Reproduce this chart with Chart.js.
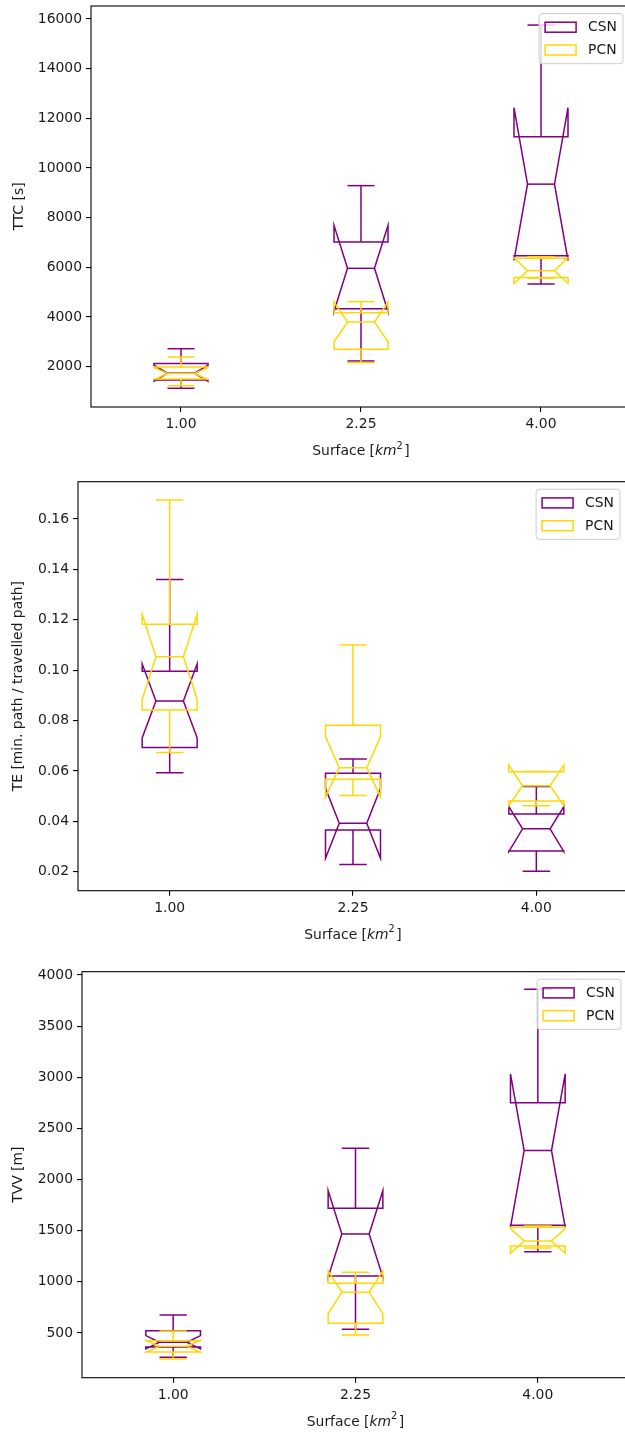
<!DOCTYPE html>
<html><head><meta charset="utf-8">
<script src="https://cdn.jsdelivr.net/npm/chart.js@4.4.1/dist/chart.umd.min.js"></script>
<style>
html,body{margin:0;padding:0;background:#fff;overflow:hidden;width:625px;height:1433px;position:relative;}
canvas.p{position:absolute;left:0;}
</style></head><body>
<canvas id="c1" class="p" width="640" height="470" style="top:0px;width:640px;height:470px"></canvas>
<canvas id="c2" class="p" width="640" height="480" style="top:470px;width:640px;height:480px"></canvas>
<canvas id="c3" class="p" width="640" height="483" style="top:950px;width:640px;height:483px"></canvas>
<script>
// ---------------- data ----------------
const categories = ['1.00', '2.25', '4.00'];
const seriesNames = ['CSN', 'PCN'];
// each row (one per category): [whiskerLow, q1, notchLow, median, notchHigh, q3, whiskerHigh]
const ttcCSN = [
  [1130, 1460, 1420, 1740, 2060, 2130, 2725],
  [2230, 4330, 4220, 5960, 7690, 7020, 9290],
  [5330, 6470, 6280, 9350, 12430, 11260, 15756]
];
const ttcPCN = [
  [1235, 1500, 1480, 1725, 1970, 1985, 2390],
  [2165, 2700, 3005, 3800, 4600, 4175, 4618],
  [5560, 5590, 5345, 5865, 6385, 6370, 6430]
];
const teCSN = [
  [0.0593, 0.0693, 0.0731, 0.0878, 0.1025, 0.0996, 0.1360],
  [0.0229, 0.0366, 0.0253, 0.0392, 0.0531, 0.0591, 0.0647],
  [0.0202, 0.0282, 0.0280, 0.0370, 0.0458, 0.0429, 0.0538]
];
const tePCN = [
  [0.0673, 0.0842, 0.0884, 0.1053, 0.1222, 0.1182, 0.1675],
  [0.0502, 0.0567, 0.0496, 0.0613, 0.0736, 0.0781, 0.1100],
  [0.0462, 0.0481, 0.0462, 0.0541, 0.0624, 0.0597, 0.0598]
];
const tvvCSN = [
  [262, 362, 345, 410, 475, 522, 676],
  [536, 1057, 1045, 1468, 1891, 1719, 2305],
  [1295, 1553, 1534, 2283, 3032, 2752, 3860]
];
const tvvPCN = [
  [245, 315, 310, 370, 430, 425, 520],
  [480, 595, 690, 898, 1106, 986, 1093],
  [1330, 1351, 1279, 1400, 1521, 1533, 1546]
];
const ttcTicks = [2000, 4000, 6000, 8000, 10000, 12000, 14000, 16000];
const teTicks = [0.02, 0.04, 0.06, 0.08, 0.10, 0.12, 0.14, 0.16];
const tvvTicks = [500, 1000, 1500, 2000, 2500, 3000, 3500, 4000];
const yTitles = ['TTC [s]', 'TE [min. path / travelled path]', 'TVV [m]'];

// ---------------- style ----------------
const COLORS = ['#800080', '#FFD700'];
const FS = 13.9;
const FONT = '"DejaVu Sans", "Liberation Sans", sans-serif';
const TXT = '#1a1a1a';
const BOX_HALF = 0.15, CAP_HALF = 0.075;

const boxPlugin = {
  id: 'notchedBoxes',
  afterDraw(chart) {
    const ctx = chart.ctx, a = chart.chartArea;
    const xs = chart.scales.x, ys = chart.scales.y;
    const Y = v => ys.getPixelForValue(v);
    // boxes
    ctx.save();
    ctx.beginPath(); ctx.rect(a.left, a.top, a.right - a.left, a.bottom - a.top); ctx.clip();
    ctx.lineWidth = 1.5; ctx.lineJoin = 'miter'; ctx.lineCap = 'butt';
    chart.data.datasets.forEach((ds, si) => {
      ctx.strokeStyle = ds.borderColor;
      ds.stats.forEach((r, i) => {
        const pos = i + 1;
        const [wl, q1, nl, md, nh, q3, wh] = r;
        const xc = xs.getPixelForValue(pos);
        const L = xs.getPixelForValue(pos - BOX_HALF), R = xs.getPixelForValue(pos + BOX_HALF);
        const cl = xs.getPixelForValue(pos - CAP_HALF), cr = xs.getPixelForValue(pos + CAP_HALF);
        ctx.beginPath();
        ctx.moveTo(L, Y(q1)); ctx.lineTo(R, Y(q1)); ctx.lineTo(R, Y(nl)); ctx.lineTo(cr, Y(md));
        ctx.lineTo(R, Y(nh)); ctx.lineTo(R, Y(q3)); ctx.lineTo(L, Y(q3)); ctx.lineTo(L, Y(nh));
        ctx.lineTo(cl, Y(md)); ctx.lineTo(L, Y(nl)); ctx.closePath(); ctx.stroke();
        const seg = (x1, y1, x2, y2) => { ctx.beginPath(); ctx.moveTo(x1, y1); ctx.lineTo(x2, y2); ctx.stroke(); };
        seg(cl, Y(md), cr, Y(md));
        seg(xc, Y(q1), xc, Y(wl));
        seg(xc, Y(q3), xc, Y(wh));
        seg(cl, Y(wl), cr, Y(wl));
        seg(cl, Y(wh), cr, Y(wh));
      });
    });
    ctx.restore();
    // spines
    ctx.save();
    ctx.strokeStyle = '#000'; ctx.lineWidth = 1.1;
    ctx.strokeRect(a.left, a.top, a.right - a.left, a.bottom - a.top);
    ctx.restore();
    // legend
    ctx.save();
    ctx.font = FS + 'px ' + FONT;
    const tw = Math.max(...seriesNames.map(n => ctx.measureText(n).width));
    const pad = 6, hl = 31, hp = 12, rowH = 15.4, sp = 7.4;
    const w = pad * 2 + hl + hp + tw, h = pad * 2 + rowH * 2 + sp;
    const x0 = a.right - 8 - w, y0 = a.top + 7.5;
    ctx.beginPath();
    if (ctx.roundRect) ctx.roundRect(x0, y0, w, h, 3); else ctx.rect(x0, y0, w, h);
    ctx.fillStyle = 'rgba(255,255,255,0.8)'; ctx.fill();
    ctx.strokeStyle = '#cccccc'; ctx.lineWidth = 1; ctx.stroke();
    chart.data.datasets.forEach((ds, si) => {
      const yc = y0 + pad + rowH / 2 + si * (rowH + sp);
      ctx.strokeStyle = ds.borderColor; ctx.lineWidth = 1.5;
      ctx.strokeRect(x0 + pad, yc - 5, hl, 10);
      ctx.fillStyle = TXT; ctx.textAlign = 'left'; ctx.textBaseline = 'middle';
      ctx.fillText(ds.label, x0 + pad + hl + hp, yc + 0.5);
    });
    ctx.restore();
    // x title: Surface [km^2]
    ctx.save();
    ctx.fillStyle = TXT; ctx.textBaseline = 'alphabetic'; ctx.textAlign = 'left';
    const parts = [
      ['Surface [', FS + 'px ' + FONT, 0],
      ['km', 'italic ' + FS + 'px ' + FONT, 0],
      ['2', (FS * 0.7) + 'px ' + FONT, -FS * 0.45],
      [']', FS + 'px ' + FONT, 0]
    ];
    let total = 0;
    parts.forEach(p => { ctx.font = p[1]; p.push(ctx.measureText(p[0]).width); total += p[3]; });
    total += 1.5;
    let x = (a.left + a.right) / 2 - total / 2;
    const base = a.bottom + 48;
    parts.forEach((p, k) => { ctx.font = p[1]; ctx.fillText(p[0], x, base + p[2]); x += p[3] + (k === 2 ? 1.5 : 0); });
    ctx.restore();
    // y title
    ctx.save();
    ctx.font = FS + 'px ' + FONT;
    ctx.fillStyle = TXT;
    const cfg = chart.options.plugins.notchedBoxes;
    ctx.translate(cfg.yTitleX, (a.top + a.bottom) / 2);
    ctx.rotate(-Math.PI / 2);
    ctx.textAlign = 'center'; ctx.textBaseline = 'middle';
    ctx.fillText(cfg.yTitle, 0, 0);
    ctx.restore();
  }
};

function makeChart(id, p) {
  const canvas = document.getElementById(id);
  const H = canvas.height, W = canvas.width;
  new Chart(canvas, {
    type: 'scatter',
    data: {
      datasets: [p.csn, p.pcn].map((rows, si) => ({
        label: seriesNames[si],
        data: rows.map((r, i) => ({ x: i + 1, y: r[3] })),
        stats: rows,
        borderColor: COLORS[si],
        backgroundColor: COLORS[si],
        pointRadius: 0, pointHoverRadius: 0, showLine: false
      }))
    },
    options: {
      responsive: false, animation: false, events: [],
      layout: { autoPadding: false, padding: { top: p.top, right: W - p.right, left: 0, bottom: 0 } },
      plugins: { legend: { display: false }, tooltip: { enabled: false }, notchedBoxes: { yTitle: p.yTitle, yTitleX: p.yTitleX } },
      scales: {
        x: {
          type: 'linear', min: 0.5, max: 3.5,
          afterBuildTicks: s => { s.ticks = categories.map((c, i) => ({ value: i + 1 })); },
          ticks: { callback: v => categories[Math.round(v) - 1], font: { family: FONT, size: FS }, color: TXT, padding: 4, maxRotation: 0, autoSkip: false },
          grid: { display: true, drawOnChartArea: false, drawTicks: true, tickLength: 5, color: '#000', lineWidth: 1.1 },
          border: { display: false },
          afterFit: s => { s.height = H - p.bottom; s.paddingLeft = 0; s.paddingRight = 0; }
        },
        y: {
          type: 'linear', min: p.min, max: p.max,
          afterBuildTicks: s => { s.ticks = p.ticks.map(v => ({ value: v })); },
          ticks: { callback: p.fmt, font: { family: FONT, size: FS }, color: TXT, padding: 4, autoSkip: false },
          grid: { display: true, drawOnChartArea: false, drawTicks: true, tickLength: 5, color: '#000', lineWidth: 1.1 },
          border: { display: false },
          afterFit: s => { s.width = p.left; s.paddingTop = 0; s.paddingBottom = 0; }
        }
      }
    },
    plugins: [boxPlugin]
  });
}

makeChart('c1', { csn: ttcCSN, pcn: ttcPCN, ticks: ttcTicks, min: 377, max: 16523, fmt: v => String(Math.round(v)),
  top: 6, bottom: 407, left: 91, right: 631, yTitle: yTitles[0], yTitleX: 19 });
makeChart('c2', { csn: teCSN, pcn: tePCN, ticks: teTicks, min: 0.01246, max: 0.1748, fmt: v => Number(v).toFixed(2),
  top: 11.7, bottom: 420.7, left: 78, right: 628, yTitle: yTitles[1], yTitleX: 18 });
makeChart('c3', { csn: tvvCSN, pcn: tvvPCN, ticks: tvvTicks, min: 63, max: 4032, fmt: v => String(Math.round(v)),
  top: 21.7, bottom: 427.7, left: 82, right: 629, yTitle: yTitles[2], yTitleX: 18 });
</script>
</body></html>
